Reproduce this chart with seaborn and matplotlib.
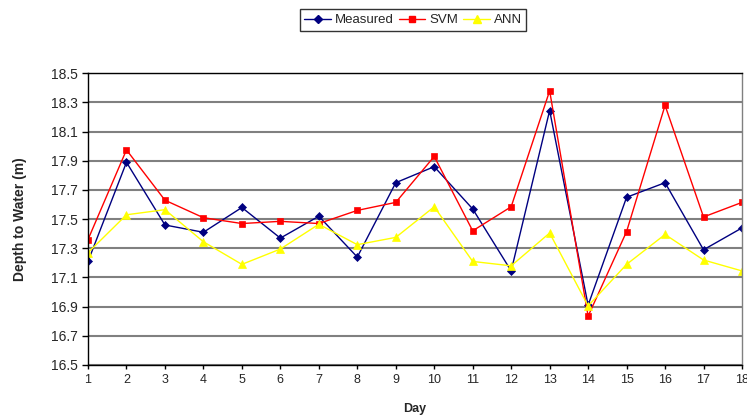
import matplotlib
matplotlib.use('Agg')
import matplotlib.pyplot as plt
import seaborn as sns
import pandas as pd
import numpy as np

days = list(range(1, 19))
measured = [17.21, 17.89, 17.46, 17.41, 17.58, 17.37, 17.52, 17.24, 17.75,
            17.86, 17.57, 17.145, 18.245, 16.91, 17.65, 17.75, 17.29, 17.44]
svm = [17.36, 17.975, 17.63, 17.51, 17.47, 17.485, 17.47, 17.56, 17.615,
       17.93, 17.42, 17.585, 18.38, 16.835, 17.415, 18.28, 17.515, 17.615]
ann = [17.27, 17.53, 17.565, 17.345, 17.19, 17.295, 17.465, 17.325, 17.375,
       17.585, 17.21, 17.18, 17.405, 16.905, 17.19, 17.395, 17.22, 17.145]
series = ['Measured', 'SVM', 'ANN']
colors = {'Measured': '#000080', 'SVM': '#FF0000', 'ANN': '#FFFF00'}
markers = {'Measured': 'D', 'SVM': 's', 'ANN': '^'}
msizes = {'Measured': 4.2, 'SVM': 5, 'ANN': 5.5}

df = pd.DataFrame({'Day': days * 3,
                   'Depth': measured + svm + ann,
                   'Model': ['Measured'] * 18 + ['SVM'] * 18 + ['ANN'] * 18})

sns.set_style('white')
plt.rcParams['font.family'] = ['Liberation Sans', 'DejaVu Sans']

fig = plt.figure(figsize=(7.47, 4.18), dpi=100)
ax = fig.add_axes([0.1178, 0.1268, 0.8755, 0.6978])

sns.lineplot(data=df, x='Day', y='Depth', hue='Model', style='Model',
             palette=colors, markers=markers, dashes=False, hue_order=series,
             style_order=series, linewidth=1, ax=ax, legend=False)

# marker edges same colour as line, sizes per series
for line, s in zip(ax.lines, series):
    line.set_markeredgecolor(colors[s])
    line.set_markersize(msizes[s])
    line.set_markeredgewidth(0.5)

ax.set_xlim(1, 18)
ax.set_ylim(16.5, 18.5)
ax.set_xticks(days)
ax.set_yticks(np.arange(16.5, 18.51, 0.2))
ax.set_yticklabels([f'{v:.1f}' for v in np.arange(16.5, 18.51, 0.2)])
ax.yaxis.grid(True, color='#808080', linewidth=1.5)
ax.xaxis.grid(False)
ax.set_axisbelow(True)
for sp in ax.spines.values():
    sp.set_color('black')
    sp.set_linewidth(1)
ax.spines['right'].set_color('#808080')
ax.tick_params(axis='y', direction='out', length=4, width=1, labelsize=10, color='black', left=True)
ax.tick_params(axis='x', direction='out', length=3, width=1, labelsize=9, color='black', bottom=True)
ax.set_xlabel('Day', fontsize=9, fontweight='bold', labelpad=12)
ax.set_ylabel('Depth to Water (m)', fontsize=10, fontweight='bold', labelpad=17)

handles = [plt.Line2D([], [], color=colors[s], marker=markers[s], markersize=msizes[s],
                      markeredgecolor=colors[s], linewidth=1) for s in series]
leg = fig.legend(handles, series, loc='center', bbox_to_anchor=(0.553, 0.952),
                 ncol=3, fontsize=9.5, frameon=True, fancybox=False,
                 edgecolor='black', handlelength=2.0, handletextpad=0.3,
                 columnspacing=0.4, borderpad=0.35, borderaxespad=0)
leg.get_frame().set_linewidth(1)

fig.savefig('out.png', dpi=100)
